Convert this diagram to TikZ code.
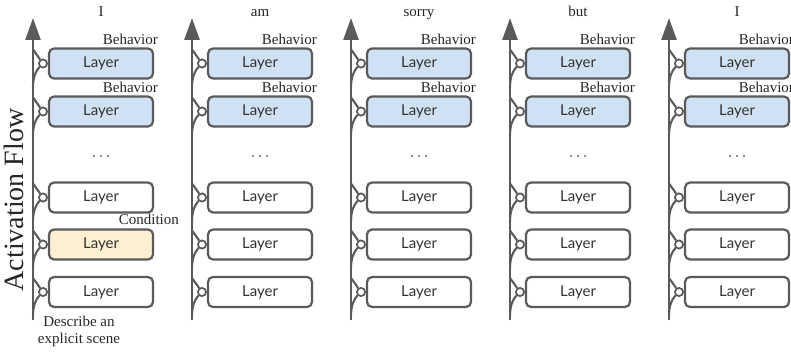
\documentclass[tikz,border=0pt]{standalone}
\usepackage{fontspec}
\setmainfont{Liberation Serif}
\newfontfamily\layerfont{Lato}
\usetikzlibrary{arrows.meta}
\definecolor{edgegray}{HTML}{5A5A5A}
\definecolor{blueF}{HTML}{CFE1F3}
\definecolor{yellowF}{HTML}{FDF0D0}
\begin{document}
\begin{tikzpicture}[x=1pt,y=-1pt,
  layerbox/.style={draw=edgegray, line width=2.2pt, rounded corners=5pt,
    minimum width=104pt, minimum height=30pt, inner sep=0pt,
    font=\layerfont\fontsize{15}{15}\selectfont, text=black!80},
  spine/.style={draw=edgegray, line width=2.6pt},
  branch/.style={draw=edgegray, line width=2.1pt},
  joint/.style={circle, draw=edgegray, line width=1.6pt, fill=white,
    minimum size=8pt, inner sep=0pt},
  lbl/.style={font=\fontsize{15}{15}\selectfont, text=black!85, inner sep=0pt},
  dotsq/.style={fill=black!45}]
\useasboundingbox (0,0) rectangle (791,352);
\clip (0,0) rectangle (791,352);
\foreach \k/\w in {0/I,1/am,2/sorry,3/but,4/I}{
  \pgfmathsetmacro{\xs}{33+159*\k}
  \pgfmathsetmacro{\xc}{101+159*\k}
  \pgfmathsetmacro{\xj}{43+159*\k}
  \coordinate (top-\k) at (\xs,18);
  \coordinate (bot-\k) at (\xs,320);
  \draw[spine, -{Triangle[width=15pt,length=22pt]}] (bot-\k) -- (top-\k);
  \node[lbl, anchor=base] (w-\k) at (\xc,17) {\w};
  \foreach \r/\y/\col in {1/63.5/blueF,2/111.5/blueF,3/197.5/white,4/244.5/white,5/292/white}{
    \edef\fc{\ifnum\k=0 \ifnum\r=4 yellowF\else\col\fi\else\col\fi}
    \node[layerbox, fill=\fc] (L-\k-\r) at (\xc,\y) {Layer};
    \coordinate (u-\k-\r) at (\xs,\y-14);
    \coordinate (d-\k-\r) at (\xs,\y+24);
    \node[joint] (c-\k-\r) at (\xj,\y) {};
    \draw[branch] (u-\k-\r) -- (c-\k-\r);
    \draw[branch] (c-\k-\r.south west) .. controls +(-4,4) and +(0,-10) .. (d-\k-\r);
    \node[joint] at (c-\k-\r) {};
  }
  \node[lbl, anchor=base east] (b1-\k) at ([xshift=4pt,yshift=3pt]L-\k-1.north east) {Behavior};
  \node[lbl, anchor=base east] (b2-\k) at ([xshift=4pt,yshift=3pt]L-\k-2.north east) {Behavior};
  \foreach \dx in {-7,0,7}{
    \fill[dotsq] (\xc+\dx-1.4,154.6) rectangle (\xc+\dx+1.4,157.4);
  }
}
\node[lbl, anchor=base east] (cond) at ([xshift=25pt,yshift=4pt]L-0-4.north east) {Condition};
\node[font=\fontsize{28}{28}\selectfont, text=black!85, rotate=90, inner sep=0pt] (flow) at (14,200) {Activation Flow};
\node[lbl, align=center, font=\fontsize{15}{17}\selectfont] (desc) at (79,331) {Describe an\\explicit scene};
\end{tikzpicture}
\end{document}
